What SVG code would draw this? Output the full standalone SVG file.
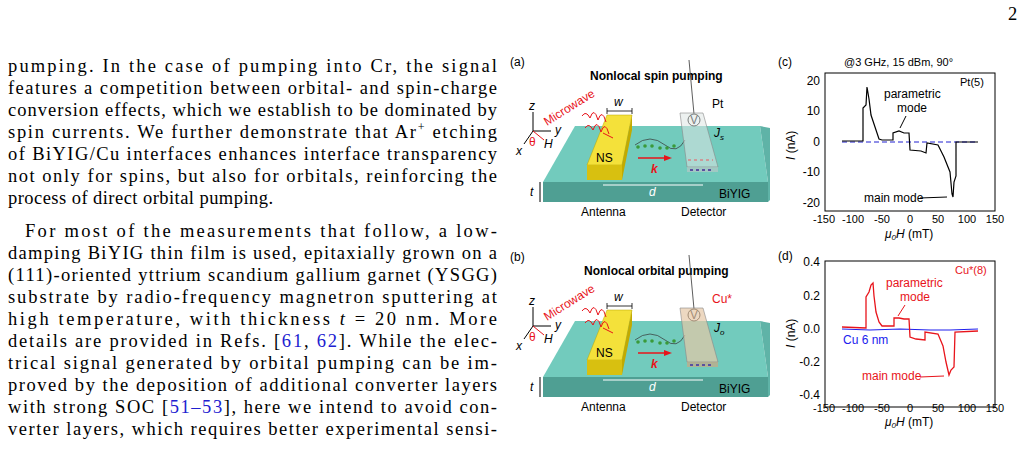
<svg xmlns="http://www.w3.org/2000/svg" width="1029" height="462" viewBox="0 0 1029 462">
<style>
.p{font-family:"Liberation Serif",serif;font-size:18.5px;fill:#000}
.s{font-family:"Liberation Sans",Arial,sans-serif;font-size:12px;fill:#000}
.t{font-family:"Liberation Sans",Arial,sans-serif;font-size:11px;fill:#000}
.b{font-weight:bold}
.r{fill:#e8141b}
.ax{fill:none;stroke:#000;stroke-width:1}
</style>
<rect width="1029" height="462" fill="#fff"/>
<text class="p" x="1008" y="20">2</text>
<g id="paragraph">
<text class="p" x="8" y="72" textLength="489" lengthAdjust="spacing">pumping.  In the case of pumping into Cr, the signal</text>
<text class="p" x="8" y="94" textLength="489" lengthAdjust="spacing">features a competition between orbital- and spin-charge</text>
<text class="p" x="8" y="116" textLength="489" lengthAdjust="spacing">conversion effects, which we establish to be dominated by</text>
<text class="p" x="8" y="138" textLength="489" lengthAdjust="spacing">spin currents. We further demonstrate that Ar<tspan font-size="12" dy="-7">+</tspan><tspan dy="7"> etching</tspan></text>
<text class="p" x="8" y="160" textLength="489" lengthAdjust="spacing">of BiYIG/Cu interfaces enhances interface transparency</text>
<text class="p" x="8" y="182" textLength="489" lengthAdjust="spacing">not only for spins, but also for orbitals, reinforcing the</text>
<text class="p" x="8" y="204" textLength="265" lengthAdjust="spacing">process of direct orbital pumping.</text>
<text class="p" x="25" y="237" textLength="472" lengthAdjust="spacing">For most of the measurements that follow, a low-</text>
<text class="p" x="8" y="259" textLength="489" lengthAdjust="spacing">damping BiYIG thin film is used, epitaxially grown on a</text>
<text class="p" x="8" y="281" textLength="489" lengthAdjust="spacing">(111)-oriented yttrium scandium gallium garnet (YSGG)</text>
<text class="p" x="8" y="303" textLength="489" lengthAdjust="spacing">substrate by radio-frequency magnetron sputtering at</text>
<text class="p" x="8" y="325" textLength="489" lengthAdjust="spacing">high temperature, with thickness <tspan font-style="italic">t</tspan> = 20 nm.  More</text>
<text class="p" x="8" y="347" textLength="489" lengthAdjust="spacing">details are provided in Refs. [<tspan fill="#2020d0">61</tspan>, <tspan fill="#2020d0">62</tspan>]. While the elec-</text>
<text class="p" x="8" y="369" textLength="489" lengthAdjust="spacing">trical signal generated by orbital pumping can be im-</text>
<text class="p" x="8" y="391" textLength="489" lengthAdjust="spacing">proved by the deposition of additional converter layers</text>
<text class="p" x="8" y="413" textLength="489" lengthAdjust="spacing">with strong SOC [<tspan fill="#2020d0">51–53</tspan>], here we intend to avoid con-</text>
<text class="p" x="8" y="435" textLength="489" lengthAdjust="spacing">verter layers, which requires better experimental sensi-</text>
</g>
<defs>
<g id="dev">
<polygon points="575,126 760,126 768,182 543,182" fill="#72cbbd"/>
<polygon points="543,182 768,182 768,202 543,202" fill="#4f9f93"/>
<polygon points="760,126 770,128 770,200 768,202 768,182" fill="#5fb3a7"/>
<polygon points="607,115 632,115 622,165 587,165" fill="#f4e13a" stroke="#b9a400" stroke-width="0.5"/>
<polygon points="587,165 622,165 622,180 587,180" fill="#d8c010"/>
<polygon points="622,165 632,115 632,130 622,180" fill="#c2aa00"/>
<line x1="607" y1="111" x2="632" y2="111" stroke="#000" stroke-width="0.8"/>
<line x1="607" y1="108" x2="607" y2="114" stroke="#000" stroke-width="0.8"/>
<line x1="632" y1="108" x2="632" y2="114" stroke="#000" stroke-width="0.8"/>
<text class="s" x="614" y="106" font-style="italic">w</text>
<text class="s" x="596" y="162" font-size="13">NS</text>
<path d="M582,116 q4,-6 8,2 q4,-12 8,2 q4,-12 8,2 M585,128 q4,-6 8,2 q4,-12 8,2 q4,-12 8,2" fill="none" stroke="#e8141b" stroke-width="1"/>
<line x1="603" y1="133" x2="613" y2="138" stroke="#e8141b" stroke-width="1"/>
<text class="s r" x="547" y="126" transform="rotate(-32 547 126)">Microwave</text>
<line x1="533" y1="131" x2="533" y2="112" stroke="#000"/><text class="s" x="529" y="110" font-style="italic">z</text>
<line x1="533" y1="131" x2="551" y2="131" stroke="#000"/><text class="s" x="555" y="134" font-style="italic">y</text>
<line x1="533" y1="131" x2="524" y2="144" stroke="#000"/><text class="s" x="516" y="155" font-style="italic">x</text>
<line x1="533" y1="131" x2="544" y2="140" stroke="#e8141b"/><text class="s" x="544" y="148" font-style="italic">H</text>
<text class="s r" x="529" y="146" font-size="11">θ</text>
<line x1="638" y1="158" x2="668" y2="158" stroke="#e8141b" stroke-width="1.5"/>
<polygon points="672,158 664,155 664,161" fill="#e8141b"/>
<text class="s r b" x="651" y="173" font-style="italic">k</text>
<line x1="603" y1="185" x2="703" y2="185" stroke="#fff" stroke-width="1"/>
<text class="s" x="649" y="196" style="fill:#fff" font-style="italic">d</text>
<line x1="540" y1="182" x2="540" y2="202" stroke="#000"/>
<text class="s" x="530" y="196" font-style="italic">t</text>
<text class="s" x="719" y="198" font-size="13">BiYIG</text>
<text class="s" x="581" y="216">Antenna</text>
<text class="s" x="681" y="216">Detector</text>
<path d="M635,145 q15,-12 30,0 q12,10 20,-5" fill="none" stroke="#333" stroke-width="0.7"/>
<g fill="#3a9a3a"><circle cx="638" cy="147" r="1.8"/><circle cx="645" cy="146" r="1.8"/><circle cx="652" cy="146" r="1.8"/><circle cx="660" cy="148" r="1.8"/><circle cx="667" cy="148" r="1.8"/><circle cx="674" cy="146" r="1.8"/></g>
<line x1="689" y1="60" x2="694" y2="114" stroke="#333" stroke-width="0.8"/>
<circle cx="694" cy="120" r="6" fill="#fff" stroke="#000"/>
<text class="s" x="690" y="124" font-size="9">V</text>
</g>
</defs>
<g id="panel-a">
<text class="s" x="510" y="66" font-size="11">(a)</text>
<text class="s b" x="590" y="80">Nonlocal spin pumping</text>
<use href="#dev"/>
<polygon points="680,113 703,113 718,167 687,167" fill="#dfe6e4" fill-opacity="0.55" stroke="#888" stroke-width="0.6"/>
<polygon points="687,167 718,167 718,172 687,172" fill="#bfc8c6" fill-opacity="0.6"/>
<line x1="690" y1="170" x2="712" y2="170" stroke="#5a50a0" stroke-width="2" stroke-dasharray="3,3"/>
<line x1="688" y1="160" x2="713" y2="160" stroke="#c99" stroke-width="2" stroke-dasharray="3,3"/>
<text class="s" x="712" y="108">Pt</text>
<text class="s" x="714" y="137" font-style="italic">J<tspan font-size="8" dy="3">s</tspan></text>
</g>
<g id="panel-b" transform="translate(0,195)">
<text class="s" x="510" y="66" font-size="11">(b)</text>
<text class="s b" x="584" y="80">Nonlocal orbital pumping</text>
<use href="#dev"/>
<polygon points="680,113 703,113 718,167 687,167" fill="#e5c7a6" fill-opacity="0.7" stroke="#888" stroke-width="0.6"/>
<polygon points="687,167 718,167 718,172 687,172" fill="#c9a885" fill-opacity="0.7"/>
<line x1="690" y1="170" x2="712" y2="170" stroke="#5a50a0" stroke-width="2" stroke-dasharray="3,3"/>
<text class="s r" x="712" y="108">Cu*</text>
<text class="s" x="714" y="137" font-style="italic">J<tspan font-size="8" dy="3">o</tspan></text>
</g>
<g id="panel-c">
<text class="s" x="778" y="66" font-size="11">(c)</text>
<text class="t" x="844" y="66">@3 GHz, 15 dBm, 90°</text>
<rect class="ax" x="825" y="73" width="170" height="138"/>
<text class="t" x="960" y="86">Pt(5)</text>
<g class="s" text-anchor="end"><text x="820" y="85">20</text><text x="820" y="115">10</text><text x="820" y="146">0</text><text x="820" y="176">-10</text><text x="820" y="207">-20</text></g>
<g class="t" text-anchor="middle" font-size="10.5"><text x="824" y="223">-150</text><text x="853" y="223">-100</text><text x="882" y="223">-50</text><text x="910" y="223">0</text><text x="938" y="223">50</text><text x="967" y="223">100</text><text x="995" y="223">150</text></g>
<text class="s" x="885" y="238" font-style="italic">μ<tspan font-size="8" dy="2">0</tspan><tspan dy="-2">H</tspan><tspan font-style="normal"> (mT)</tspan></text>
<text class="s" x="795" y="160" transform="rotate(-90 795 160)"><tspan font-style="italic">I</tspan> (nA)</text>
<line x1="842" y1="142" x2="978" y2="142" stroke="#2020d0" stroke-dasharray="5,3"/>
<polyline fill="none" stroke="#000" stroke-width="1.2" points="842,141 863,141 863,108 866,105 867,87 869,99 871,115 875,127 879,139 882,140 893,140 893,133 899,131 904,133 909,133 910,150 921,151 926,153 927,143 938,145 944,157 950,172 952,194 953,197 954,182 956,176 956,142 978,142"/>
<text class="s" x="884" y="98">parametric</text>
<text class="s" x="897" y="112">mode</text>
<line x1="906" y1="116" x2="900" y2="128" stroke="#000"/>
<text class="s" x="864" y="202">main mode</text>
<line x1="920" y1="198" x2="947" y2="197" stroke="#000"/>
</g>
<g id="panel-d">
<text class="s" x="778" y="260" font-size="11">(d)</text>
<rect class="ax" x="825" y="261" width="170" height="146"/>
<text class="t r" x="955" y="274">Cu*(8)</text>
<g class="s" text-anchor="end"><text x="820" y="266">0.4</text><text x="820" y="300">0.2</text><text x="820" y="333">0.0</text><text x="820" y="366">-0.2</text><text x="820" y="399">-0.4</text></g>
<g class="t" text-anchor="middle" font-size="10.5"><text x="824" y="412">-150</text><text x="853" y="412">-100</text><text x="882" y="412">-50</text><text x="910" y="412">0</text><text x="938" y="412">50</text><text x="967" y="412">100</text><text x="995" y="412">150</text></g>
<text class="s" x="885" y="426" font-style="italic">μ<tspan font-size="8" dy="2">0</tspan><tspan dy="-2">H</tspan><tspan font-style="normal"> (mT)</tspan></text>
<text class="s" x="795" y="348" transform="rotate(-90 795 348)"><tspan font-style="italic">I</tspan> (nA)</text>
<polyline fill="none" stroke="#2020ee" stroke-width="1.2" points="842,329 870,330 900,329 930,330 950,330 978,329"/>
<polyline fill="none" stroke="#e8141b" stroke-width="1.3" points="842,327 866,328 866,297 869,292 871,285 873,283 874,296 876,312 879,322 882,326 894,326 894,318 899,318 904,319 909,319 910,337 916,339 925,340 925,332 938,334 943,346 946,362 949,375 951,370 954,367 955,332 978,331"/>
<text class="s r" x="886" y="287">parametric</text>
<text class="s r" x="900" y="301">mode</text>
<line x1="905" y1="305" x2="898" y2="316" stroke="#e8141b"/>
<text class="s" x="843" y="344" style="fill:#2020ee">Cu 6 nm</text>
<text class="s r" x="862" y="380">main mode</text>
<line x1="920" y1="377" x2="944" y2="376" stroke="#e8141b"/>
</g>
</svg>
